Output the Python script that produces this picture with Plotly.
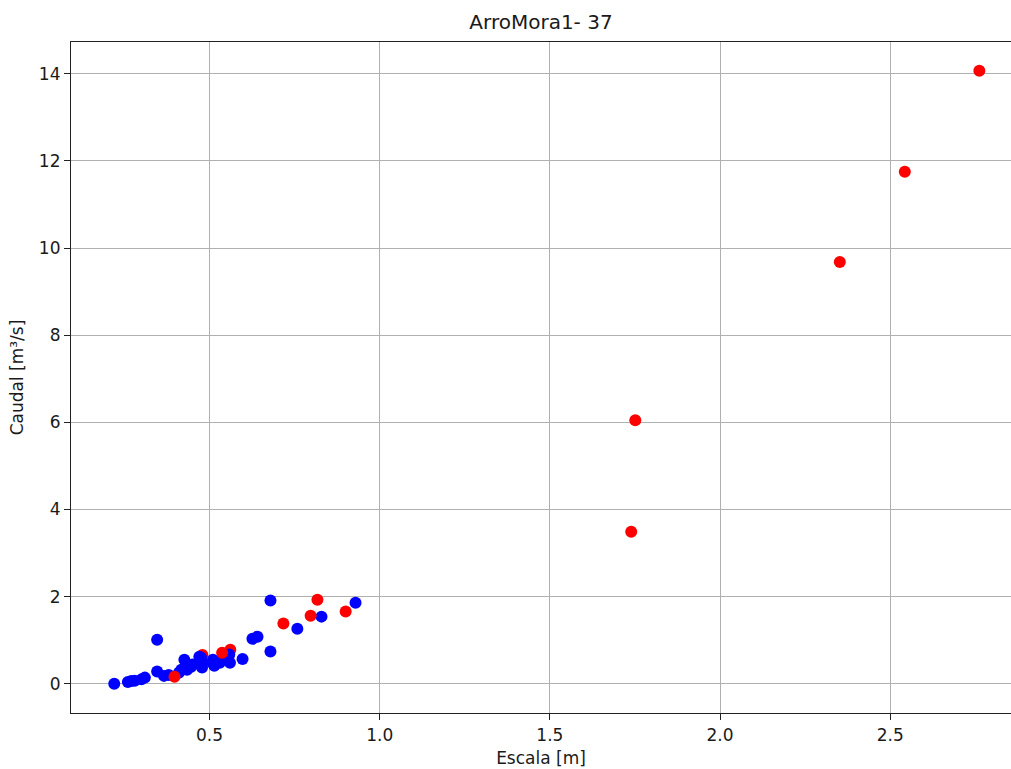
import plotly.graph_objects as go

# Aforos históricos (azul)
escala_azul = [0.22, 0.26, 0.27, 0.28, 0.30, 0.31, 0.346, 0.346, 0.366, 0.38,
               0.41, 0.417, 0.426, 0.434, 0.446, 0.45, 0.47, 0.475, 0.478, 0.478,
               0.508, 0.51, 0.514, 0.525, 0.53, 0.55, 0.558, 0.56, 0.597, 0.626,
               0.641, 0.679, 0.679, 0.758, 0.829, 0.929]
caudal_azul = [0.00, 0.04, 0.06, 0.07, 0.10, 0.14, 1.01, 0.28, 0.18, 0.20,
               0.25, 0.32, 0.55, 0.32, 0.39, 0.44, 0.62, 0.60, 0.37, 0.48,
               0.48, 0.55, 0.41, 0.50, 0.48, 0.62, 0.67, 0.48, 0.57, 1.03,
               1.08, 1.91, 0.74, 1.26, 1.54, 1.86]

# Aforos recientes (rojo)
escala_rojo_a = [0.479, 0.561]
caudal_rojo_a = [0.66, 0.78]
escala_rojo_b = [2.762, 2.543, 2.352, 1.751, 1.739, 0.817, 0.900, 0.797, 0.717, 0.537, 0.397]
caudal_rojo_b = [14.07, 11.75, 9.68, 6.05, 3.49, 1.93, 1.66, 1.56, 1.38, 0.71, 0.16]

x_ticks = [0.5, 1.0, 1.5, 2.0, 2.5]
y_ticks = [0, 2, 4, 6, 8, 10, 12, 14]

FONT = "DejaVu Sans"
MSIZE = 12

fig = go.Figure()
fig.add_trace(go.Scatter(x=escala_rojo_a, y=caudal_rojo_a, mode="markers",
                         marker=dict(color="red", size=MSIZE), showlegend=False))
fig.add_trace(go.Scatter(x=escala_azul, y=caudal_azul, mode="markers",
                         marker=dict(color="blue", size=MSIZE), showlegend=False))
fig.add_trace(go.Scatter(x=escala_rojo_b, y=caudal_rojo_b, mode="markers",
                         marker=dict(color="red", size=MSIZE), showlegend=False))

fig.update_layout(
    width=1011, height=769,
    margin=dict(l=71, r=0, t=42, b=56),
    paper_bgcolor="white", plot_bgcolor="white",
    font=dict(family=FONT, size=17, color="#1a1a1a"),
    title=dict(text="ArroMora1- 37", x=0.5, xref="paper",
               y=1 - 22 / 769, yref="container", yanchor="middle",
               font=dict(size=20, family=FONT, color="#1a1a1a")),
)
fig.update_xaxes(
    range=[0.0929, 2.855], tickvals=x_ticks, ticktext=[f"{v:.1f}" for v in x_ticks],
    showgrid=True, gridcolor="#b0b0b0", gridwidth=1,
    showline=True, linecolor="#222222", linewidth=1.2, mirror=True,
    ticks="outside", ticklen=6, tickcolor="#222222", zeroline=False,
    tickfont=dict(size=17),
    title=dict(text="Escala [m]", font=dict(size=17), standoff=8),
)
fig.update_yaxes(
    range=[-0.672, 14.73], tickvals=y_ticks, ticktext=[str(v) for v in y_ticks],
    showgrid=True, gridcolor="#b0b0b0", gridwidth=1,
    showline=True, linecolor="#222222", linewidth=1.2, mirror=False,
    ticks="outside", ticklen=6, tickcolor="#222222", zeroline=False,
    tickfont=dict(size=17),
    title=dict(text="Caudal [m³/s]", font=dict(size=17), standoff=10),
)

fig.write_html("out.html")
